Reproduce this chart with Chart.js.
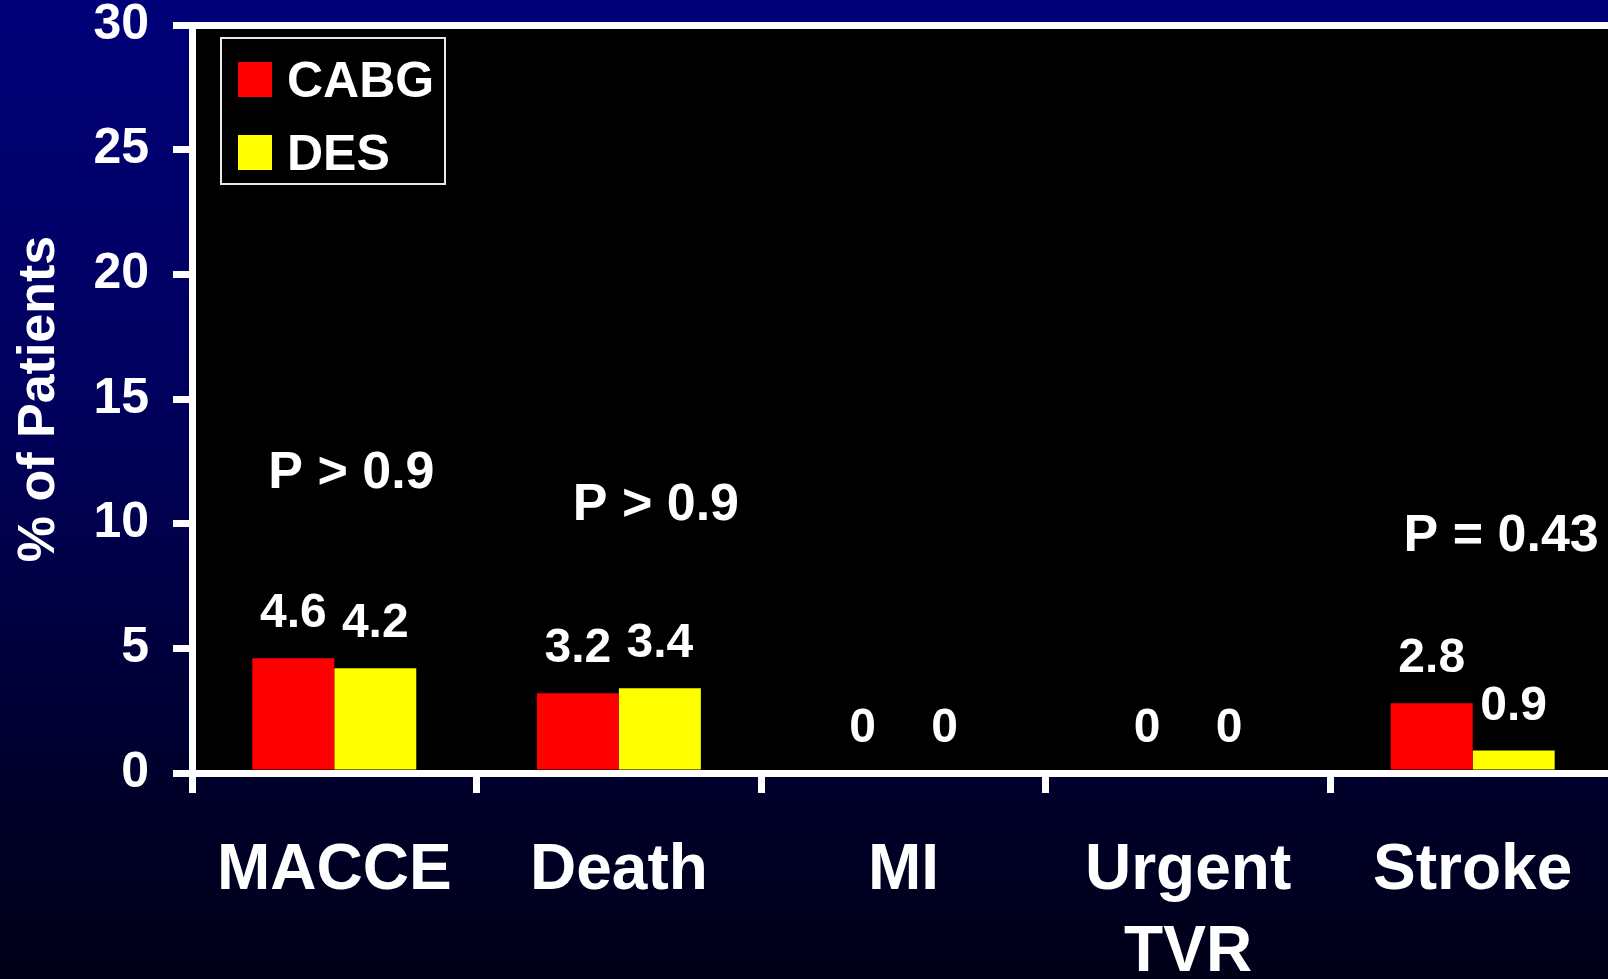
<!DOCTYPE html>
<html>
<head>
<meta charset="utf-8">
<script src="https://cdn.jsdelivr.net/npm/chart.js@4/dist/chart.umd.min.js"></script>
<style>
  html, body {
    margin: 0;
    padding: 0;
    width: 1608px;
    height: 979px;
    overflow: hidden;
    background: linear-gradient(to bottom, #000078 0%, #00005e 40%, #00002c 80%, #000018 100%);
  }
  #wrap { width: 1615px; height: 979px; }
</style>
</head>
<body>
<div id="wrap"><canvas id="chart" width="1615" height="979"></canvas></div>
<script>
// Outcomes by treatment arm
const categories = ['MACCE', 'Death', 'MI', ['Urgent', 'TVR'], 'Stroke'];
const cabgValues = [4.6, 3.2, 0, 0, 2.8];
const desValues  = [4.2, 3.4, 0, 0, 0.9];
const yTicks = [0, 5, 10, 15, 20, 25, 30];

// P-value annotations: category position and height in data units
const pLabelText = ['P > 0.9', 'P > 0.9', 'P = 0.43'];
const pLabelX    = [0.06, 1.13, 4.1];
const pLabelY    = [11.45, 10.15, 8.9];

const FONT = "'Liberation Sans', Arial, Helvetica, sans-serif";

// Black plot panel behind the bars
const panelPlugin = {
  id: 'panel',
  beforeDraw(chart) {
    const { ctx, chartArea: a } = chart;
    ctx.save();
    ctx.fillStyle = '#000000';
    ctx.fillRect(a.left, a.top, a.right - a.left, a.bottom - a.top);
    ctx.restore();
  }
};

// Value labels above each bar
const valueLabelPlugin = {
  id: 'valueLabels',
  afterDatasetsDraw(chart) {
    const { ctx } = chart;
    ctx.save();
    ctx.fillStyle = '#ffffff';
    ctx.font = 'bold 48px ' + FONT;
    ctx.textAlign = 'center';
    ctx.textBaseline = 'alphabetic';
    chart.data.datasets.forEach((ds, di) => {
      const meta = chart.getDatasetMeta(di);
      meta.data.forEach((bar, i) => {
        ctx.fillText(String(ds.data[i]), bar.x, bar.y - 31);
      });
    });
    ctx.restore();
  }
};

// P-value annotations placed through the scales
const pValuePlugin = {
  id: 'pValues',
  afterDatasetsDraw(chart) {
    const { ctx, scales } = chart;
    ctx.save();
    ctx.fillStyle = '#ffffff';
    ctx.font = 'bold 52px ' + FONT;
    ctx.textAlign = 'center';
    ctx.textBaseline = 'alphabetic';
    pLabelText.forEach((t, i) => {
      const x = scales.x.getPixelForValue(pLabelX[i]);
      const y = scales.y.getPixelForValue(pLabelY[i]);
      ctx.fillText(t, x, y);
    });
    ctx.restore();
  }
};

// Boxed legend in the upper-left of the panel
const boxLegendPlugin = {
  id: 'boxLegend',
  afterDraw(chart) {
    const { ctx } = chart;
    ctx.save();
    ctx.strokeStyle = '#e8e8e8';
    ctx.lineWidth = 2;
    ctx.strokeRect(221, 38, 224, 146);
    ctx.font = 'bold 50px ' + FONT;
    ctx.textAlign = 'left';
    ctx.textBaseline = 'alphabetic';
    chart.data.datasets.forEach((ds, i) => {
      const top = 62 + i * 73;
      ctx.fillStyle = ds.backgroundColor;
      ctx.fillRect(238, top, 34, 35);
      ctx.fillStyle = '#ffffff';
      ctx.fillText(ds.label, 287, top + 35);
    });
    ctx.restore();
  }
};

new Chart(document.getElementById('chart'), {
  type: 'bar',
  data: {
    labels: categories,
    datasets: [
      { label: 'CABG', data: cabgValues, backgroundColor: '#ff0000', borderWidth: 0 },
      { label: 'DES',  data: desValues,  backgroundColor: '#ffff00', borderWidth: 0 }
    ]
  },
  options: {
    responsive: false,
    animation: false,
    devicePixelRatio: 1,
    layout: { padding: { top: 25, left: 0, right: 0, bottom: 0 } },
    datasets: { bar: { categoryPercentage: 0.576, barPercentage: 1.0 } },
    plugins: {
      legend: { display: false },
      tooltip: { enabled: false }
    },
    scales: {
      x: {
        offset: true,
        grid: {
          offset: true,
          drawOnChartArea: false,
          color: '#ffffff',
          tickColor: '#ffffff',
          lineWidth: 7,
          tickWidth: 7,
          tickLength: 20
        },
        border: { display: true, color: '#ffffff', width: 7 },
        ticks: {
          color: '#ffffff',
          font: { family: FONT, size: 64, weight: 'bold', lineHeight: 1.28 },
          padding: 37,
          maxRotation: 0,
          minRotation: 0,
          autoSkip: false
        },
        afterFit(scale) {
          scale.height = 206;
          scale.paddingLeft = 0;
          scale.paddingRight = 0;
        }
      },
      y: {
        min: 0,
        max: 30,
        afterBuildTicks(scale) { scale.ticks = yTicks.map(v => ({ value: v })); },
        grid: {
          drawOnChartArea: true,
          color: (c) => (c.tick && c.tick.value === 30 ? '#ffffff' : 'rgba(0,0,0,0)'),
          tickColor: '#ffffff',
          lineWidth: 7,
          tickWidth: 7,
          tickLength: 19
        },
        border: { display: true, color: '#ffffff', width: 7 },
        ticks: {
          color: '#ffffff',
          font: { family: FONT, size: 50, weight: 'bold', lineHeight: 1.0 },
          padding: 24
        },
        title: {
          display: true,
          text: '% of Patients',
          color: '#ffffff',
          font: { family: FONT, size: 52, weight: 'bold', lineHeight: 1.2 },
          padding: { top: 8, bottom: 0 }
        },
        afterFit(scale) {
          scale.width = 192;
          scale.paddingTop = 0;
          scale.paddingBottom = 0;
        }
      }
    }
  },
  plugins: [panelPlugin, valueLabelPlugin, pValuePlugin, boxLegendPlugin]
});
</script>
</body>
</html>
